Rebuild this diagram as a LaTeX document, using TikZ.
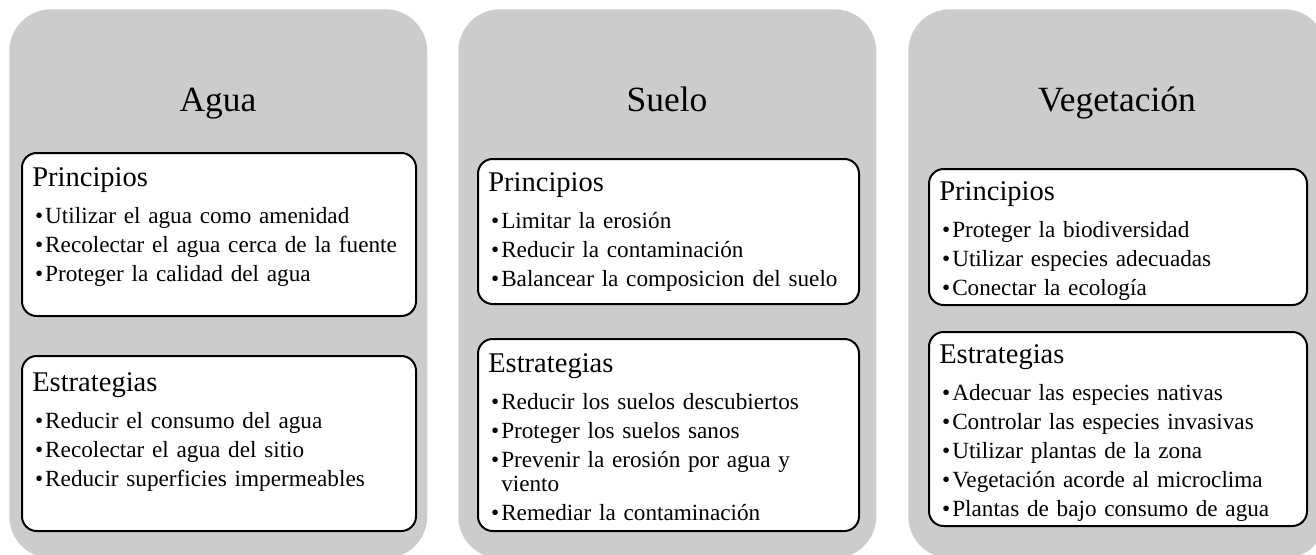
\documentclass[tikz,border=0pt]{standalone}
\usepackage{fontspec}
\setmainfont{Liberation Serif}
\usepackage{tikz}
\usetikzlibrary{positioning,calc}
\definecolor{PanelGray}{RGB}{204,204,204}
\newcommand{\boxhead}[1]{{\fontsize{21.4pt}{24pt}\selectfont #1\par}\vspace{6pt}}
\newcommand{\boxitem}[1]{\par\vspace{3.4pt}\hangindent=9.75pt\hangafter=1\noindent\makebox[9.75pt][l]{\hspace{2.2pt}\textbullet}#1}

\begin{document}
\begin{tikzpicture}[
    x=0.75pt, y=-0.75pt,
    panel/.style={fill=PanelGray, draw=none, rounded corners=31.5pt, anchor=north west,
                  minimum width=313.5pt, minimum height=411.75pt},
    paneltitle/.style={font=\fontsize{26.6pt}{30pt}\selectfont, anchor=base, inner sep=0pt},
    card/.style={draw=black, line width=1.5pt, fill=white, rounded corners=11pt,
                 anchor=north west, inner sep=0pt},
    cardtext/.style={anchor=base west, inner sep=0pt, align=left,
                     font=\fontsize{17.4pt}{18.4pt}\selectfont}
  ]
  \useasboundingbox (0,0) rectangle (1316,554);

  % gray columns
  \node[panel] (agua) at (9,9) {};
  \node[panel] (suelo) at (458,9) {};
  \node[panel] (veg) at (908,9) {};

  \node[paneltitle] (aguaTitle) at (218,111) {Agua};
  \node[paneltitle] (sueloTitle) at (667,111) {Suelo};
  \node[paneltitle] (vegTitle) at (1117,111) {Vegetación};

  % Agua
  \node[card, minimum width=295.5pt, minimum height=122.25pt] (aguaPrin) at (21,152) {};
  \node[cardtext, text width=277.5pt] (aguaPrinText) at ($(aguaPrin.north west)+(11,34)$)
    {\boxhead{Principios}\boxitem{Utilizar el agua como amenidad}\boxitem{Recolectar el agua cerca de la fuente}\boxitem{Proteger la calidad del agua}};
  \node[card, minimum width=295.5pt, minimum height=131.25pt] (aguaEstr) at (21,355) {};
  \node[cardtext, text width=277.5pt] (aguaEstrText) at ($(aguaEstr.north west)+(11,36)$)
    {\boxhead{Estrategias}\boxitem{Reducir el consumo del agua}\boxitem{Recolectar el agua del sitio}\boxitem{Reducir superficies impermeables}};

  % Suelo
  \node[card, minimum width=285.75pt, minimum height=108.75pt] (sueloPrin) at (477,158) {};
  \node[cardtext, text width=270pt] (sueloPrinText) at ($(sueloPrin.north west)+(11,33)$)
    {\boxhead{Principios}\boxitem{Limitar la erosión}\boxitem{Reducir la contaminación}\boxitem{Balancear la composicion del suelo}};
  \node[card, minimum width=285.75pt, minimum height=144pt] (sueloEstr) at (477,338) {};
  \node[cardtext, text width=270pt] (sueloEstrText) at ($(sueloEstr.north west)+(11,34)$)
    {\boxhead{Estrategias}\boxitem{Reducir los suelos descubiertos}\boxitem{Proteger los suelos sanos}\boxitem{Prevenir la erosión por agua y\newline viento}\boxitem{Remediar la contaminación}};

  % Vegetacion
  \node[card, minimum width=283.5pt, minimum height=102pt] (vegPrin) at (928,168) {};
  \node[cardtext, text width=266pt] (vegPrinText) at ($(vegPrin.north west)+(11,32)$)
    {\boxhead{Principios}\boxitem{Proteger la biodiversidad}\boxitem{Utilizar especies adecuadas}\boxitem{Conectar la ecología}};
  \node[card, minimum width=283.5pt, minimum height=145.5pt] (vegEstr) at (928,331) {};
  \node[cardtext, text width=266pt] (vegEstrText) at ($(vegEstr.north west)+(11,32)$)
    {\boxhead{Estrategias}\boxitem{Adecuar las especies nativas}\boxitem{Controlar las especies invasivas}\boxitem{Utilizar plantas de la zona}\boxitem{Vegetación acorde al microclima}\boxitem{Plantas de bajo consumo de agua}};
\end{tikzpicture}
\end{document}
